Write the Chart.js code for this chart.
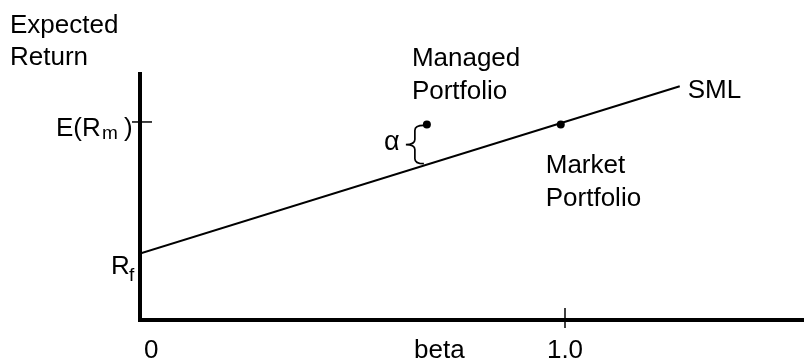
<!DOCTYPE html>
<html><head><meta charset="utf-8">
<script src="https://cdn.jsdelivr.net/npm/chart.js@4"></script>
<style>html,body{margin:0;padding:0;background:#fff;}#wrap{width:807px;height:362px;position:relative;}</style>
</head><body><div id="wrap"><canvas id="c"></canvas></div>
<script>
// Security Market Line
const smlBeta = [0, 1.27];
const smlReturn = [5.4, 19.0];
const pointNames = ['Managed Portfolio', 'Market Portfolio'];
const pointBeta = [0.675, 0.99];
const pointReturn = [15.9, 15.9];
const xTickValues = [0, 1.0];
const xTickLabels = ['0', '1.0'];
const yLabelValues = [5.4, 16.1];
const yLabelMain = ['R', 'E(R'];
const yLabelSub = ['f', 'm'];
const yLabelTail = ['', ')'];
const xTitle = 'beta';
const yTitle = ['Expected', 'Return'];
const lineName = 'SML';
const alphaLabel = 'α';

const FONT = s => s + 'px "Liberation Sans", Arial, Helvetica, sans-serif';

const annot = {
  id: 'annot',
  afterDraw(chart) {
    const ctx = chart.ctx, xs = chart.scales.x, ys = chart.scales.y, ca = chart.chartArea;
    ctx.save();
    ctx.fillStyle = '#000'; ctx.strokeStyle = '#000';
    ctx.textBaseline = 'alphabetic';
    // y axis title
    ctx.font = FONT(26); ctx.textAlign = 'left';
    ctx.fillText(yTitle[0], 10, 33);
    ctx.fillText(yTitle[1], 10, 65);
    // x tick mark at 1.0
    ctx.lineWidth = 1.5;
    const px1 = xs.getPixelForValue(xTickValues[1]);
    ctx.beginPath(); ctx.moveTo(px1, ca.bottom - 12); ctx.lineTo(px1, ca.bottom + 8); ctx.stroke();
    // x tick labels
    const base = ca.bottom + 38;
    ctx.textAlign = 'left';
    ctx.fillText(xTickLabels[0], xs.getPixelForValue(xTickValues[0]) + 4, base);
    ctx.textAlign = 'center';
    ctx.fillText(xTickLabels[1], px1, base);
    ctx.textAlign = 'left';
    ctx.fillText(xTitle, ca.left + 274, base);
    // y tick mark at E(Rm)
    const pyE = ys.getPixelForValue(yLabelValues[1]);
    ctx.beginPath(); ctx.moveTo(ca.left - 8, pyE); ctx.lineTo(ca.left + 12, pyE); ctx.stroke();
    // y labels
    const pyR = ys.getPixelForValue(yLabelValues[0]);
    ctx.font = FONT(26); ctx.fillText(yLabelMain[0], 111, pyR + 20);
    ctx.font = FONT(19); ctx.fillText(yLabelSub[0], 129, pyR + 27);
    ctx.font = FONT(26); ctx.fillText(yLabelMain[1], 56, pyE + 14);
    ctx.font = FONT(19); ctx.fillText(yLabelSub[1], 102, pyE + 17);
    ctx.font = FONT(26); ctx.fillText(yLabelTail[1], 124, pyE + 14);
    // point labels
    const mx = xs.getPixelForValue(pointBeta[0]), my = ys.getPixelForValue(pointReturn[0]);
    const kx = xs.getPixelForValue(pointBeta[1]), ky = ys.getPixelForValue(pointReturn[1]);
    const words0 = pointNames[0].split(' '), words1 = pointNames[1].split(' ');
    ctx.fillText(words0[0], mx - 15, my - 58);
    ctx.fillText(words0[1], mx - 15, my - 25);
    ctx.fillText(words1[0], kx - 15, ky + 49);
    ctx.fillText(words1[1], kx - 15, ky + 82);
    // SML label
    const ex = xs.getPixelForValue(smlBeta[1]), ey = ys.getPixelForValue(smlReturn[1]);
    ctx.fillText(lineName, ex + 8, ey + 12);
    // brace between managed portfolio and SML
    const sx0 = xs.getPixelForValue(smlBeta[0]), sy0 = ys.getPixelForValue(smlReturn[0]);
    const yTop = my + 1;
    const yBot = sy0 + (ey - sy0) * (mx - sx0) / (ex - sx0) - 1;
    const x0 = mx - 3, xv = mx - 12, xm = mx - 21, yMid = (yTop + yBot) / 2, r = 5;
    ctx.lineWidth = 1.7;
    ctx.beginPath();
    ctx.moveTo(x0, yTop);
    ctx.quadraticCurveTo(xv, yTop, xv, yTop + r);
    ctx.lineTo(xv, yMid - r);
    ctx.quadraticCurveTo(xv, yMid, xm, yMid);
    ctx.quadraticCurveTo(xv, yMid, xv, yMid + r);
    ctx.lineTo(xv, yBot - r);
    ctx.quadraticCurveTo(xv, yBot, x0, yBot);
    ctx.stroke();
    ctx.font = FONT(27);
    ctx.fillText(alphaLabel, xm - 22, yMid + 5);
    ctx.restore();
  }
};

new Chart(document.getElementById('c'), {
  type: 'scatter',
  data: {
    datasets: [
      {
        label: lineName,
        data: smlBeta.map((b, i) => ({x: b, y: smlReturn[i]})),
        showLine: true,
        borderColor: '#000',
        borderWidth: 2,
        pointRadius: 0,
        fill: false
      },
      {
        label: 'Portfolios',
        data: pointBeta.map((b, i) => ({x: b, y: pointReturn[i]})),
        showLine: false,
        pointRadius: 4,
        pointBackgroundColor: '#000',
        pointBorderColor: '#000',
        pointBorderWidth: 0
      }
    ]
  },
  options: {
    responsive: true,
    maintainAspectRatio: false,
    animation: false,
    layout: {padding: {left: 140, right: 0, top: 74, bottom: 42}},
    plugins: {legend: {display: false}, tooltip: {enabled: false}},
    scales: {
      x: {
        type: 'linear', min: 0, max: 1.56,
        grid: {display: false, drawTicks: false},
        ticks: {display: false},
        border: {display: true, color: '#000', width: 4}
      },
      y: {
        type: 'linear', min: 0, max: 20,
        grid: {display: false, drawTicks: false},
        ticks: {display: false},
        border: {display: true, color: '#000', width: 4}
      }
    }
  },
  plugins: [annot]
});
</script>
</body></html>
